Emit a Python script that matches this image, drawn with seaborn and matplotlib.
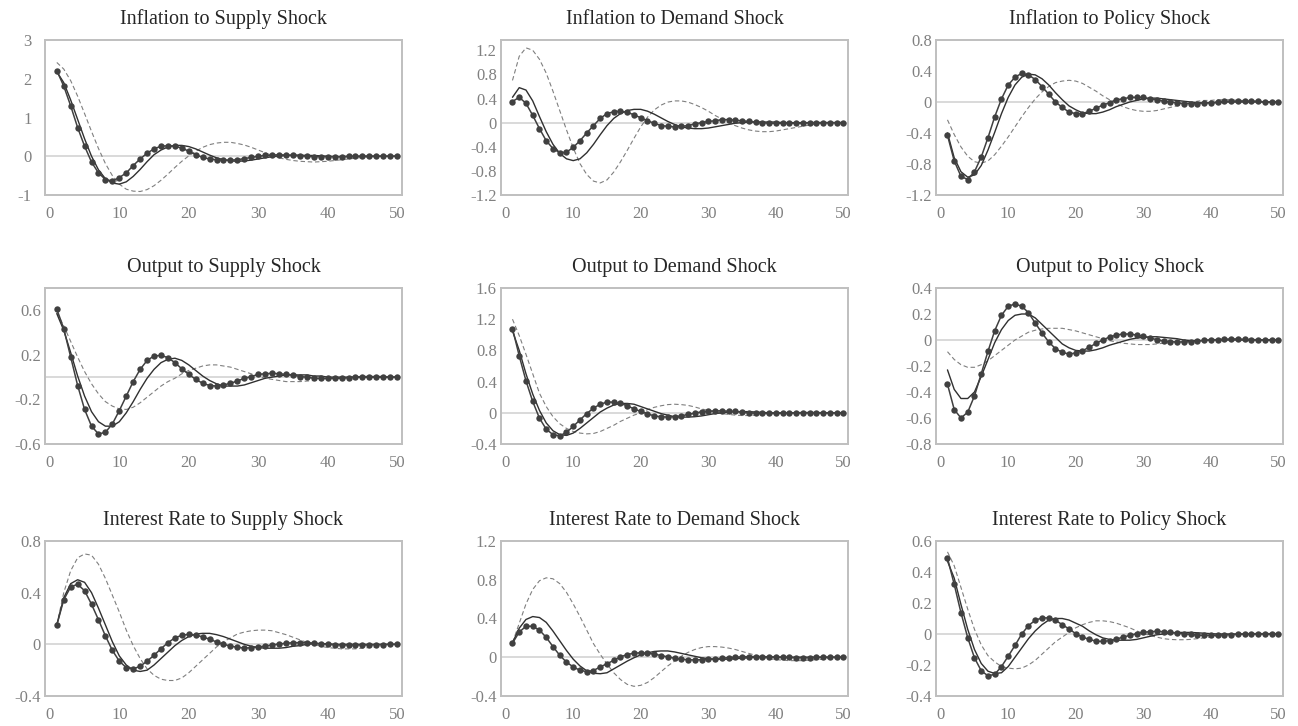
import matplotlib
matplotlib.use("Agg")
import matplotlib.pyplot as plt
import seaborn as sns

sns.set_theme(style="white")
plt.rcParams["font.family"] = ["Liberation Serif", "DejaVu Serif"]
plt.rcParams["axes.unicode_minus"] = False

periods = list(range(1, 51))

# ---------------- Inflation ----------------
infl_supply_a = [2.21, 1.81, 1.30, 0.74, 0.26, -0.15, -0.43, -0.60, -0.64, -0.55, -0.43, -0.24, -0.07, 0.08, 0.19, 0.26, 0.27, 0.26, 0.21, 0.13,
                 0.04, -0.03, -0.07, -0.09, -0.10, -0.10, -0.09, -0.06, -0.03, 0.00, 0.02, 0.03, 0.04, 0.03, 0.02, 0.01, 0.00, -0.01, -0.01, -0.01,
                 -0.01, -0.01, 0.00, 0.00, 0.00, 0.00, 0.00, 0.00, 0.00, 0.00]
infl_supply_b = [2.18, 1.90, 1.45, 0.95, 0.45, 0.00, -0.35, -0.58, -0.69, -0.72, -0.66, -0.52, -0.34, -0.14, 0.04, 0.16, 0.24, 0.28, 0.28, 0.25,
                 0.19, 0.11, 0.03, -0.04, -0.09, -0.12, -0.13, -0.12, -0.10, -0.07, -0.04, -0.01, 0.01, 0.02, 0.03, 0.03, 0.02, 0.02, 0.01, 0.00,
                 -0.01, -0.01, -0.01, -0.01, 0.00, 0.00, 0.00, 0.00, 0.00, 0.00]
infl_supply_c = [2.42, 2.25, 1.95, 1.55, 1.10, 0.64, 0.20, -0.19, -0.50, -0.72, -0.85, -0.90, -0.91, -0.86, -0.76, -0.62, -0.46, -0.29, -0.13, 0.01,
                 0.13, 0.23, 0.30, 0.34, 0.36, 0.36, 0.33, 0.29, 0.23, 0.16, 0.09, 0.02, -0.04, -0.08, -0.11, -0.13, -0.14, -0.15, -0.14, -0.13,
                 -0.11, -0.09, -0.07, -0.05, -0.03, -0.02, -0.01, 0.00, 0.00, 0.00]

infl_demand_a = [0.35, 0.42, 0.32, 0.12, -0.10, -0.30, -0.43, -0.50, -0.49, -0.41, -0.30, -0.17, -0.05, 0.07, 0.15, 0.18, 0.19, 0.17, 0.13, 0.08,
                 0.03, -0.01, -0.05, -0.06, -0.07, -0.06, -0.05, -0.02, 0.00, 0.02, 0.03, 0.05, 0.05, 0.04, 0.03, 0.02, 0.01, 0.00, -0.01, -0.01,
                 -0.01, -0.01, -0.01, -0.01, 0.00, 0.00, 0.00, 0.00, 0.00, 0.00]
infl_demand_b = [0.42, 0.58, 0.54, 0.36, 0.10, -0.15, -0.36, -0.51, -0.60, -0.63, -0.60, -0.50, -0.36, -0.20, -0.05, 0.07, 0.15, 0.20, 0.22, 0.22,
                 0.19, 0.14, 0.08, 0.02, -0.03, -0.07, -0.09, -0.10, -0.10, -0.09, -0.07, -0.05, -0.03, -0.01, 0.00, 0.01, 0.01, 0.01, 0.01, 0.01,
                 0.00, 0.00, 0.00, 0.00, 0.00, 0.00, 0.00, 0.00, 0.00, 0.00]
infl_demand_c = [0.70, 1.10, 1.24, 1.20, 1.05, 0.82, 0.52, 0.20, -0.12, -0.42, -0.68, -0.86, -0.97, -1.00, -0.95, -0.82, -0.65, -0.46, -0.26, -0.07,
                 0.09, 0.21, 0.29, 0.34, 0.36, 0.36, 0.34, 0.30, 0.25, 0.19, 0.12, 0.06, 0.00, -0.05, -0.09, -0.12, -0.14, -0.15, -0.15, -0.14,
                 -0.12, -0.10, -0.08, -0.06, -0.04, -0.02, -0.01, 0.00, 0.00, 0.00]

infl_policy_a = [-0.43, -0.76, -0.96, -1.00, -0.90, -0.71, -0.46, -0.19, 0.04, 0.22, 0.32, 0.37, 0.35, 0.29, 0.20, 0.10, 0.00, -0.07, -0.13, -0.15,
                 -0.15, -0.12, -0.08, -0.04, -0.01, 0.03, 0.04, 0.06, 0.06, 0.06, 0.04, 0.03, 0.01, 0.00, -0.01, -0.02, -0.02, -0.02, -0.01, -0.01,
                 0.00, 0.01, 0.01, 0.01, 0.01, 0.01, 0.01, 0.00, 0.00, 0.00]
infl_policy_b = [-0.40, -0.72, -0.90, -0.97, -0.94, -0.82, -0.62, -0.39, -0.15, 0.06, 0.22, 0.32, 0.36, 0.35, 0.30, 0.22, 0.12, 0.03, -0.05, -0.10,
                 -0.14, -0.15, -0.15, -0.13, -0.10, -0.06, -0.03, 0.00, 0.02, 0.04, 0.05, 0.05, 0.04, 0.03, 0.02, 0.01, 0.00, -0.01, -0.01, -0.01,
                 -0.01, 0.00, 0.00, 0.00, 0.00, 0.00, 0.00, 0.00, 0.00, 0.00]
infl_policy_c = [-0.23, -0.42, -0.58, -0.70, -0.77, -0.79, -0.76, -0.68, -0.57, -0.45, -0.32, -0.19, -0.07, 0.04, 0.13, 0.20, 0.25, 0.27, 0.28, 0.27,
                 0.24, 0.19, 0.14, 0.08, 0.03, -0.02, -0.06, -0.09, -0.11, -0.12, -0.12, -0.11, -0.09, -0.07, -0.05, -0.03, -0.01, 0.01, 0.02, 0.02,
                 0.03, 0.03, 0.03, 0.02, 0.02, 0.01, 0.01, 0.00, 0.00, 0.00]

# ---------------- Output ----------------
output_supply_a = [0.61, 0.435, 0.18, -0.075, -0.29, -0.44, -0.51, -0.495, -0.42, -0.30, -0.17, -0.04, 0.07, 0.15, 0.19, 0.195, 0.175, 0.13, 0.075, 0.025,
                   -0.02, -0.055, -0.075, -0.08, -0.07, -0.055, -0.035, -0.01, 0.005, 0.025, 0.03, 0.035, 0.03, 0.025, 0.02, 0.005, 0.00, -0.01, -0.012, -0.012,
                   -0.01, -0.01, -0.005, 0.00, 0.005, 0.005, 0.005, 0.005, 0.00, 0.00]
output_supply_b = [0.57, 0.42, 0.22, 0.01, -0.17, -0.31, -0.40, -0.44, -0.44, -0.40, -0.32, -0.22, -0.11, -0.01, 0.07, 0.13, 0.16, 0.17, 0.15, 0.11,
                   0.06, 0.01, -0.03, -0.06, -0.08, -0.08, -0.08, -0.07, -0.05, -0.03, -0.01, 0.00, 0.01, 0.02, 0.02, 0.02, 0.02, 0.01, 0.01, 0.00,
                   0.00, 0.00, 0.00, 0.00, 0.00, 0.00, 0.00, 0.00, 0.00, 0.00]
output_supply_c = [0.58, 0.46, 0.32, 0.18, 0.05, -0.06, -0.15, -0.22, -0.26, -0.285, -0.29, -0.27, -0.23, -0.18, -0.13, -0.08, -0.04, -0.01, 0.03, 0.06,
                   0.08, 0.10, 0.11, 0.11, 0.10, 0.09, 0.07, 0.05, 0.03, 0.01, -0.01, -0.02, -0.03, -0.04, -0.04, -0.04, -0.035, -0.03, -0.025, -0.02,
                   -0.01, -0.01, 0.00, 0.00, 0.00, 0.00, 0.00, 0.00, 0.00, 0.00]

output_demand_a = [1.08, 0.73, 0.41, 0.145, -0.07, -0.21, -0.28, -0.295, -0.25, -0.175, -0.09, -0.01, 0.06, 0.11, 0.137, 0.137, 0.12, 0.09, 0.05, 0.017,
                   -0.013, -0.04, -0.05, -0.055, -0.05, -0.04, -0.02, -0.005, 0.013, 0.02, 0.025, 0.025, 0.02, 0.017, 0.008, 0.00, -0.005, -0.008, -0.008, -0.008,
                   -0.005, 0.00, 0.00, 0.003, 0.003, 0.003, 0.00, 0.00, 0.00, 0.00]
output_demand_b = [1.05, 0.80, 0.50, 0.24, 0.03, -0.13, -0.23, -0.28, -0.29, -0.26, -0.20, -0.13, -0.06, 0.01, 0.06, 0.10, 0.12, 0.12, 0.11, 0.08,
                   0.05, 0.02, -0.01, -0.03, -0.05, -0.055, -0.055, -0.05, -0.04, -0.025, -0.01, 0.00, 0.01, 0.015, 0.015, 0.015, 0.01, 0.005, 0.00, 0.00,
                   0.00, 0.00, 0.00, 0.00, 0.00, 0.00, 0.00, 0.00, 0.00, 0.00]
output_demand_c = [1.20, 0.99, 0.75, 0.50, 0.25, 0.08, -0.05, -0.14, -0.20, -0.24, -0.26, -0.27, -0.265, -0.24, -0.20, -0.16, -0.11, -0.07, -0.03, 0.00,
                   0.04, 0.07, 0.09, 0.105, 0.11, 0.105, 0.095, 0.075, 0.05, 0.03, 0.01, -0.01, -0.02, -0.03, -0.035, -0.035, -0.03, -0.025, -0.02, -0.015,
                   -0.01, -0.005, 0.00, 0.00, 0.00, 0.00, 0.00, 0.00, 0.00, 0.00]

output_policy_a = [-0.34, -0.535, -0.60, -0.555, -0.43, -0.26, -0.087, 0.072, 0.19, 0.26, 0.277, 0.26, 0.21, 0.13, 0.054, -0.015, -0.067, -0.095, -0.108, -0.10,
                   -0.082, -0.056, -0.026, 0.00, 0.023, 0.038, 0.046, 0.046, 0.038, 0.028, 0.015, 0.003, -0.008, -0.013, -0.015, -0.015, -0.013, -0.008, -0.003, 0.00,
                   0.003, 0.005, 0.008, 0.008, 0.005, 0.003, 0.002, 0.00, 0.00, 0.00]
output_policy_b = [-0.23, -0.38, -0.45, -0.45, -0.40, -0.28, -0.15, -0.02, 0.08, 0.15, 0.19, 0.20, 0.20, 0.17, 0.12, 0.07, 0.02, -0.03, -0.06, -0.08,
                   -0.085, -0.085, -0.075, -0.06, -0.04, -0.025, -0.01, 0.005, 0.015, 0.02, 0.025, 0.025, 0.02, 0.015, 0.01, 0.00, -0.005, -0.005, -0.005, 0.00,
                   0.00, 0.00, 0.00, 0.00, 0.00, 0.00, 0.00, 0.00, 0.00, 0.00]
output_policy_c = [-0.09, -0.15, -0.19, -0.21, -0.21, -0.19, -0.16, -0.12, -0.08, -0.04, 0.00, 0.03, 0.06, 0.075, 0.085, 0.09, 0.09, 0.09, 0.08, 0.07,
                   0.055, 0.04, 0.025, 0.01, -0.005, -0.015, -0.025, -0.03, -0.035, -0.035, -0.035, -0.03, -0.025, -0.02, -0.015, -0.01, -0.005, 0.00, 0.00, 0.005,
                   0.005, 0.005, 0.005, 0.005, 0.00, 0.00, 0.00, 0.00, 0.00, 0.00]

# ---------------- Interest rate ----------------
rate_supply_a = [0.15, 0.345, 0.445, 0.465, 0.415, 0.31, 0.19, 0.065, -0.047, -0.13, -0.18, -0.19, -0.17, -0.13, -0.085, -0.034, 0.013, 0.05, 0.07, 0.078,
                 0.073, 0.057, 0.04, 0.018, 0.00, -0.013, -0.023, -0.029, -0.026, -0.02, -0.013, -0.005, 0.003, 0.008, 0.013, 0.013, 0.013, 0.01, 0.005, 0.00,
                 -0.003, -0.005, -0.005, -0.005, -0.005, -0.004, -0.003, -0.002, 0.00, 0.00]
rate_supply_b = [0.15, 0.36, 0.47, 0.50, 0.48, 0.40, 0.28, 0.15, 0.02, -0.09, -0.16, -0.20, -0.21, -0.20, -0.16, -0.11, -0.06, -0.01, 0.03, 0.06,
                 0.08, 0.085, 0.085, 0.075, 0.06, 0.04, 0.02, 0.00, -0.015, -0.025, -0.03, -0.03, -0.03, -0.025, -0.015, -0.01, 0.00, 0.005, 0.005, 0.005,
                 0.00, 0.00, 0.00, 0.00, 0.00, 0.00, 0.00, 0.00, 0.00, 0.00]
rate_supply_c = [0.15, 0.40, 0.57, 0.67, 0.70, 0.69, 0.62, 0.51, 0.38, 0.25, 0.11, -0.01, -0.11, -0.19, -0.24, -0.27, -0.28, -0.28, -0.26, -0.22,
                 -0.17, -0.12, -0.07, -0.02, 0.02, 0.05, 0.08, 0.095, 0.105, 0.11, 0.11, 0.105, 0.09, 0.075, 0.055, 0.035, 0.015, 0.00, -0.015, -0.025,
                 -0.03, -0.035, -0.035, -0.035, -0.03, -0.025, -0.02, -0.012, -0.005, 0.00]

rate_demand_a = [0.145, 0.26, 0.32, 0.32, 0.28, 0.205, 0.11, 0.02, -0.05, -0.10, -0.135, -0.148, -0.137, -0.10, -0.067, -0.032, 0.004, 0.028, 0.042, 0.046,
                 0.042, 0.032, 0.018, 0.004, -0.01, -0.021, -0.025, -0.028, -0.025, -0.021, -0.018, -0.01, -0.004, 0.00, 0.004, 0.007, 0.007, 0.007, 0.004, 0.00,
                 0.00, -0.002, -0.003, -0.003, -0.003, -0.002, 0.00, 0.00, 0.00, 0.00]
rate_demand_b = [0.15, 0.30, 0.39, 0.42, 0.41, 0.36, 0.27, 0.17, 0.07, -0.02, -0.09, -0.14, -0.165, -0.17, -0.16, -0.12, -0.08, -0.04, -0.005, 0.025,
                 0.045, 0.06, 0.065, 0.065, 0.055, 0.04, 0.025, 0.01, -0.005, -0.015, -0.02, -0.02, -0.02, -0.015, -0.01, -0.005, 0.00, 0.003, 0.003, 0.003,
                 0.00, 0.00, 0.00, 0.00, 0.00, 0.00, 0.00, 0.00, 0.00, 0.00]
rate_demand_c = [0.15, 0.35, 0.55, 0.70, 0.79, 0.82, 0.81, 0.76, 0.67, 0.55, 0.42, 0.28, 0.14, 0.03, -0.07, -0.16, -0.23, -0.28, -0.30, -0.29,
                 -0.26, -0.21, -0.15, -0.09, -0.04, 0.01, 0.05, 0.08, 0.10, 0.11, 0.11, 0.105, 0.095, 0.08, 0.06, 0.04, 0.02, 0.00, -0.015, -0.025,
                 -0.03, -0.035, -0.035, -0.035, -0.03, -0.025, -0.02, -0.01, -0.005, 0.00]

rate_policy_a = [0.49, 0.32, 0.137, -0.024, -0.154, -0.237, -0.27, -0.26, -0.21, -0.143, -0.074, 0.00, 0.054, 0.089, 0.104, 0.104, 0.089, 0.06, 0.033, 0.002,
                 -0.02, -0.035, -0.046, -0.048, -0.043, -0.033, -0.02, -0.009, 0.002, 0.011, 0.015, 0.017, 0.015, 0.011, 0.007, 0.002, -0.002, -0.007, -0.009, -0.009,
                 -0.008, -0.006, -0.004, -0.002, 0.00, 0.002, 0.002, 0.002, 0.002, 0.00]
rate_policy_b = [0.47, 0.36, 0.19, 0.03, -0.10, -0.19, -0.24, -0.255, -0.25, -0.21, -0.15, -0.09, -0.03, 0.02, 0.06, 0.09, 0.10, 0.10, 0.09, 0.07,
                 0.05, 0.02, -0.005, -0.025, -0.035, -0.04, -0.04, -0.04, -0.035, -0.025, -0.015, -0.005, 0.00, 0.005, 0.01, 0.01, 0.01, 0.008, 0.005, 0.002,
                 0.00, 0.00, 0.00, 0.00, 0.00, 0.00, 0.00, 0.00, 0.00, 0.00]
rate_policy_c = [0.53, 0.44, 0.30, 0.16, 0.03, -0.07, -0.14, -0.18, -0.21, -0.22, -0.225, -0.22, -0.20, -0.17, -0.13, -0.09, -0.05, -0.02, 0.01, 0.04,
                 0.06, 0.075, 0.085, 0.085, 0.08, 0.07, 0.055, 0.04, 0.02, 0.005, -0.01, -0.02, -0.03, -0.035, -0.037, -0.037, -0.035, -0.03, -0.025, -0.018,
                 -0.012, -0.007, -0.003, 0.00, 0.00, 0.00, 0.00, 0.00, 0.00, 0.00]

titles = [
    ["Inflation to Supply Shock", "Inflation to Demand Shock", "Inflation to Policy Shock"],
    ["Output to Supply Shock", "Output to Demand Shock", "Output to Policy Shock"],
    ["Interest Rate to Supply Shock", "Interest Rate to Demand Shock", "Interest Rate to Policy Shock"],
]
series = [
    [(infl_supply_a, infl_supply_b, infl_supply_c), (infl_demand_a, infl_demand_b, infl_demand_c), (infl_policy_a, infl_policy_b, infl_policy_c)],
    [(output_supply_a, output_supply_b, output_supply_c), (output_demand_a, output_demand_b, output_demand_c), (output_policy_a, output_policy_b, output_policy_c)],
    [(rate_supply_a, rate_supply_b, rate_supply_c), (rate_demand_a, rate_demand_b, rate_demand_c), (rate_policy_a, rate_policy_b, rate_policy_c)],
]
y_ticks = [
    [[-1, 0, 1, 2, 3], [-1.2, -0.8, -0.4, 0, 0.4, 0.8, 1.2], [-1.2, -0.8, -0.4, 0, 0.4, 0.8]],
    [[-0.6, -0.2, 0.2, 0.6], [-0.4, 0, 0.4, 0.8, 1.2, 1.6], [-0.8, -0.6, -0.4, -0.2, 0, 0.2, 0.4]],
    [[-0.4, 0, 0.4, 0.8], [-0.4, 0, 0.4, 0.8, 1.2], [-0.4, -0.2, 0, 0.2, 0.4, 0.6]],
]
y_limits = [
    [(-1, 3), (-1.2, 1.37), (-1.2, 0.8)],
    [(-0.6, 0.8), (-0.4, 1.6), (-0.8, 0.4)],
    [(-0.4, 0.8), (-0.4, 1.2), (-0.4, 0.6)],
]
x_ticks = [0, 10, 20, 30, 40, 50]

W, H = 1298, 726
fig = plt.figure(figsize=(W / 100, H / 100), dpi=100)
col_left = [45, 501, 936]
col_w = [357, 347, 347]
row_top = [40, 288, 541]
row_h = [155, 156, 155]


def fmt(v):
    s = f"{round(v, 2):g}"
    return "0" if s in ("-0", "0") else s


for r in range(3):
    for c in range(3):
        ax = fig.add_axes([col_left[c] / W, 1 - (row_top[r] + row_h[r]) / H, col_w[c] / W, row_h[r] / H])
        a, b, d = series[r][c]
        ax.axhline(0, color="#d9d9d9", lw=1.4, zorder=1)
        sns.lineplot(x=periods, y=d, ax=ax, color="#7f7f7f", lw=0.8, linestyle=(0, (4, 2.5)), errorbar=None, zorder=2)
        sns.lineplot(x=periods, y=b, ax=ax, color="#303030", lw=1.0, errorbar=None, zorder=3)
        sns.lineplot(x=periods, y=a, ax=ax, color="#404040", lw=1.1, marker="o", markersize=4.6,
                     markeredgewidth=0, errorbar=None, zorder=4)
        ax.set_xlim(-0.7, 50.7)
        ax.set_ylim(*y_limits[r][c])
        ax.set_xticks(x_ticks)
        ax.set_xticklabels([str(t) for t in x_ticks])
        ax.set_yticks(y_ticks[r][c])
        ax.set_yticklabels([fmt(t) for t in y_ticks[r][c]])
        ypad = 9.5 if (r == 0 and c == 0) else 3
        ax.tick_params(axis="y", length=0, labelsize=12, labelcolor="#808080", pad=ypad)
        ax.tick_params(axis="x", length=0, labelsize=12, labelcolor="#808080", pad=8)
        for s in ax.spines.values():
            s.set_visible(True)
            s.set_color("#bfbfbf")
            s.set_linewidth(1.4)
        ax.set_xlabel("")
        ax.set_ylabel("")
        ax.grid(False)
        ax.set_title(titles[r][c], fontsize=14.5, color="#262626", pad=11.5)

fig.savefig("out.png", dpi=100, facecolor="white")
